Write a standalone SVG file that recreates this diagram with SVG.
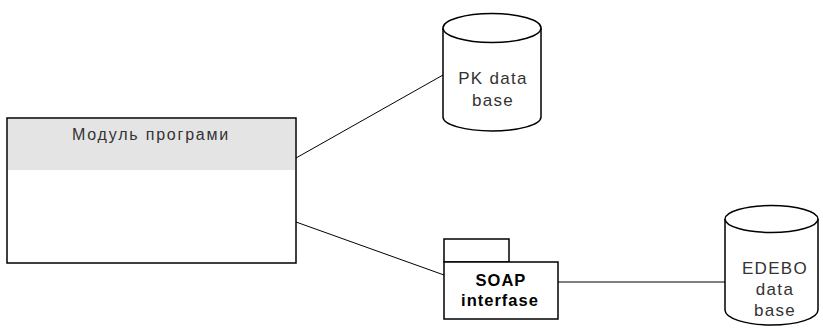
<svg xmlns="http://www.w3.org/2000/svg" width="823" height="329" viewBox="0 0 823 329">
<style>
.ln{stroke:#000;stroke-width:1;fill:none}
.sh{stroke:#000;stroke-width:1.5;fill:#fff}
.t{font-family:"Liberation Sans",Arial,sans-serif;font-size:17px;fill:#333;text-anchor:middle;letter-spacing:1.3px}
.b{font-weight:bold;font-size:16.5px;fill:#000;letter-spacing:1px}
</style>
<rect width="823" height="329" fill="#fff"/>
<g id="connectors">
<line class="ln" x1="296" y1="158" x2="443" y2="75"/>
<line class="ln" x1="296" y1="222" x2="444" y2="275"/>
<line class="ln" x1="558" y1="282" x2="726" y2="282"/>
</g>
<g id="module">
<rect x="7" y="118" width="289" height="145" class="sh"/>
<rect x="8" y="119" width="287" height="51" fill="#e4e4e4"/>
<text class="t" x="151" y="140" style="font-size:16px;letter-spacing:1.8px">Модуль програми</text>
</g>
<g id="pk">
<path class="sh" d="M443,28 V117 A49,14 0 0 0 541,117 V28"/>
<ellipse class="sh" cx="492" cy="28" rx="49" ry="14.5"/>
<text class="t" x="493" y="84">PK data</text>
<text class="t" x="493" y="106">base</text>
</g>
<g id="soap">
<rect class="sh" x="444" y="239" width="65" height="23"/>
<rect class="sh" x="444" y="262" width="114" height="57"/>
<text class="t b" x="501" y="286">SOAP</text>
<text class="t b" x="500" y="306">interfase</text>
</g>
<g id="edebo">
<path class="sh" d="M725,219 V310 A46.5,15 0 0 0 818,310 V219"/>
<ellipse class="sh" cx="771.5" cy="219" rx="46.5" ry="13.5"/>
<text class="t" x="775" y="274">EDEBO</text>
<text class="t" x="775" y="295">data</text>
<text class="t" x="775" y="316">base</text>
</g>
</svg>
